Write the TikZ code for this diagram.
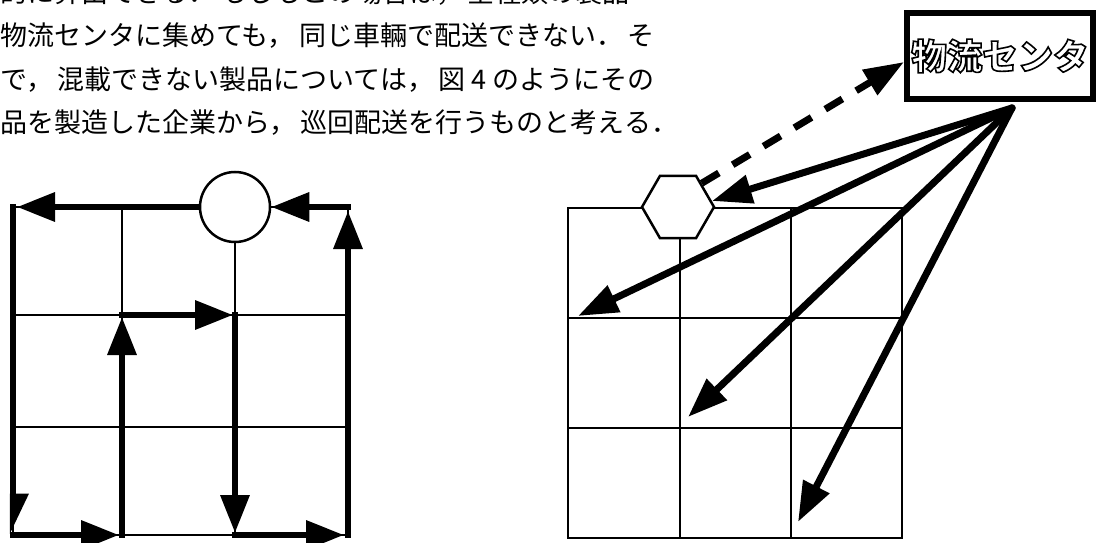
\documentclass[tikz,border=0pt]{standalone}
\usepackage{fontspec}
\newfontfamily\jp{Noto Sans CJK JP}
\usetikzlibrary{arrows.meta,shapes.geometric}
\newcommand\outlined[1]{\special{pdf:literal direct 1 Tr 1.6 w}#1\special{pdf:literal direct 0 Tr}}
\newcommand\jsp{\hspace{4.5pt}}
\begin{document}
\begin{tikzpicture}[x=1pt,y=-1pt,
  gridline/.style={line width=2pt,line cap=rect},
  route/.style={line width=6.5pt,line cap=rect,-{Triangle[length=38pt,width=28pt]}},
  feed/.style={line width=7pt,line cap=round,-{Triangle[length=40pt,width=28pt]}},
  dashlink/.style={line width=7pt,dash pattern=on 20pt off 16pt,-{Triangle[length=40pt,width=28pt]}},
  prose/.style={anchor=base west,inner sep=0pt,font=\jp\fontsize{27pt}{27pt}\selectfont}]
\fill[white] (0,0) rectangle (1098,543);
\useasboundingbox (0,0) rectangle (1098,543);
\clip (0,0) rectangle (1098,543);

% text
\node[prose] (t1) at (0,3) {的に算出できる．\jsp もしもこの場合は，\jsp 全種類の製品};
\node[prose] (t2) at (0,46) {物流センタに集めても，\jsp 同じ車輛で配送できない．\jsp そ};
\node[prose] (t3) at (0,89) {で，\jsp 混載できない製品については，\jsp 図\makebox[1em]{4}のようにその};
\node[prose] (t4) at (0,132) {品を製造した企業から，\jsp 巡回配送を行うものと考える．};

% left grid
\foreach \x in {13,122,235,348} \draw[gridline] (\x,207) -- (\x,535);
\foreach \y in {207,315,427,535} \draw[gridline] (13,\y) -- (348,\y);
\node[draw,circle,line width=2.5pt,fill=white,minimum size=70pt,inner sep=0pt] (depot) at (235,207) {};
\coordinate (a1) at (13,207);
\coordinate (a2) at (13,535);
\coordinate (b1) at (122,535);
\coordinate (b2) at (122,315);
\coordinate (c1) at (235,315);
\coordinate (c2) at (235,535);
\coordinate (d1) at (348,535);
\coordinate (d2) at (348,207);
\draw[route,line cap=butt] (depot.west) -- ([xshift=4pt]a1);
\draw[route,-{Triangle[harpoon,length=34pt,width=30pt]}] (a1) -- (a2);
\draw[route] (a2) -- ([xshift=-3pt]b1);
\draw[route] (b1) -- ([yshift=-2pt]b2);
\draw[route] (b2) -- ([xshift=-2pt]c1);
\draw[route] (c1) -- ([yshift=2pt]c2);
\draw[route] (c2) -- ([xshift=-4pt]d1);
\draw[route] (d1) -- ([yshift=-4pt]d2);
\draw[route] (d2) -- (depot.east);

% right grid
\foreach \x in {568,680,791,902} \draw[gridline] (\x,208) -- (\x,538);
\foreach \y in {208,318,428,538} \draw[gridline] (568,\y) -- (902,\y);
\node[draw,regular polygon,regular polygon sides=6,line width=2.5pt,fill=white,minimum size=72pt,inner sep=0pt] (hub) at (678,207) {};
\node[draw,line width=6pt,minimum width=186pt,minimum height=86pt,inner sep=0pt,fill=white,
  font=\jp\bfseries\fontsize{35.5pt}{35.5pt}\selectfont] (dc) at (1000,56) {\outlined{物流センタ}};
\coordinate (src) at (1012,108);
\coordinate (e2) at (578,316);
\coordinate (e3) at (688,417);
\coordinate (e4) at (798,522);
\draw[feed] (src) -- (hub.10);
\draw[feed] (src) -- (e2);
\draw[feed] (src) -- (e3);
\draw[feed] (src) -- (e4);
\draw[dashlink] (hub.45) -- ([yshift=-6pt]dc.west);
\end{tikzpicture}
\end{document}
